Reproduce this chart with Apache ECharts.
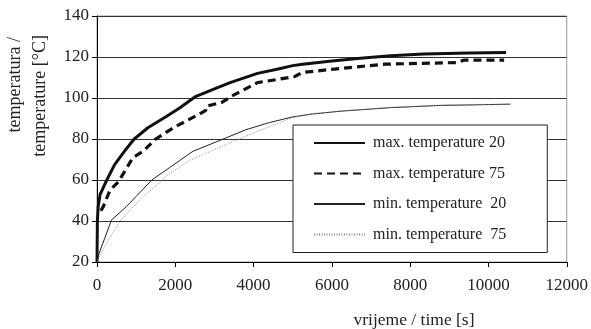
<!DOCTYPE html>
<html>
<head>
<meta charset="utf-8">
<script src="https://cdn.jsdelivr.net/npm/echarts@6/dist/echarts.min.js"></script>
<style>html,body{margin:0;padding:0;background:#fff}#c{width:591px;height:329px}</style>
</head>
<body>
<div id="c"></div>
<script>
const seriesNames = ['max. temperature 20', 'max. temperature 75', 'min. temperature  20', 'min. temperature  75'];
const max20 = [[0,20],[10,40],[30,47],[80,53],[250,60],[450,67.5],[700,74],[950,80],[1300,85.5],[1770,91],[2100,95],[2500,100.5],[3000,104.5],[3400,107.5],[4100,112],[4600,114],[5000,115.8],[5250,116.5],[6000,118],[6800,119.5],[7500,120.6],[8350,121.5],[8400,121.9],[9500,122],[9550,122.2],[10450,122.2]];
const max75 = [[100,45],[160,47],[330,55],[540,59],[700,64],[920,71],[1175,74],[1500,80],[2000,86],[2600,92],[2780,94],[2800,96],[3200,98],[3450,101],[4100,107.5],[4600,109],[5060,110.5],[5230,112.4],[6000,114],[6800,115.5],[7350,116.5],[9200,117.3],[9380,118.5],[10400,118.5]];
const min20 = [[0,20],[50,24],[370,40.5],[750,47],[1000,52],[1400,60],[1850,66],[2450,74],[3200,79.8],[3800,84.5],[4400,88],[4980,90.7],[5500,92.2],[6250,93.6],[7500,95.3],[8800,96.4],[9500,96.6],[10560,97]];
const min75 = [[0,20],[40,22],[300,31],[580,39.7],[880,46],[1175,52],[1500,57],[1770,62],[2360,69.5],[3200,76.5],[3800,81.4],[4400,86],[5000,90.5],[5500,92.3],[6250,93.7],[7500,95.4],[8800,96.5],[9500,96.8],[10570,97]];
const yTitle1 = 'temperatura /';
const yTitle2 = 'temperature [°C]';
const xTitle = 'vrijeme / time [s]';

const FONT = '"Liberation Serif", "Times New Roman", serif';
const chart = echarts.init(document.getElementById('c'), null, {renderer: 'canvas'});
chart.setOption({
  animation: false,
  backgroundColor: '#fff',
  grid: {left: 97, right: 22, top: 16, bottom: 67, show: true, borderColor: '#999', borderWidth: 1, backgroundColor: 'transparent'},
  xAxis: {
    type: 'value', min: 0, max: 12000, interval: 2000,
    axisLine: {show: true, lineStyle: {color: '#000', width: 1}},
    axisTick: {show: true, inside: false, length: 5, lineStyle: {color: '#000'}},
    axisLabel: {fontFamily: FONT, fontSize: 17, color: '#222', margin: 15, formatter: function (v) { return String(v); }},
    splitLine: {show: false}
  },
  yAxis: {
    type: 'value', min: 20, max: 140, interval: 20,
    axisLine: {show: true, lineStyle: {color: '#000', width: 1}},
    axisTick: {show: true, inside: false, length: 5, lineStyle: {color: '#000'}},
    axisLabel: {fontFamily: FONT, fontSize: 17, color: '#222', margin: 8, formatter: function (v) { return String(v); }},
    splitLine: {show: true, lineStyle: {color: '#333', width: 1}}
  },
  legend: {
    orient: 'vertical', left: 293, top: 125,
    padding: [10, 41, 10, 20],
    itemWidth: 51, itemHeight: 14, itemGap: 14.5,
    backgroundColor: '#fff', borderColor: '#222', borderWidth: 1,
    itemStyle: {opacity: 0},
    textStyle: {fontFamily: FONT, fontSize: 16, color: '#222', padding: [0, 0, 0, 3]},
    data: seriesNames
  },
  series: [
    {name: seriesNames[0], type: 'line', data: max20, symbol: 'none', lineStyle: {color: '#111', width: 3}, itemStyle: {color: '#111'}},
    {name: seriesNames[1], type: 'line', data: max75, symbol: 'none', lineStyle: {color: '#111', width: 3.2, type: [8, 5]}, itemStyle: {color: '#111'}},
    {name: seriesNames[2], type: 'line', data: min20, symbol: 'none', lineStyle: {color: '#222', width: 1}, itemStyle: {color: '#222'}},
    {name: seriesNames[3], type: 'line', data: min75, symbol: 'none', lineStyle: {color: '#888', width: 1, type: [1, 1.5]}, itemStyle: {color: '#888'}}
  ],
  graphic: [
    {type: 'text', x: 15, y: 37, rotation: Math.PI / 2, style: {text: yTitle1, font: '18px ' + FONT, fill: '#222', align: 'right', verticalAlign: 'middle'}},
    {type: 'text', x: 40, y: 35, rotation: Math.PI / 2, style: {text: yTitle2, font: '18px ' + FONT, fill: '#222', align: 'right', verticalAlign: 'middle'}},
    {type: 'text', x: 414, y: 320, style: {text: xTitle, font: '17.5px ' + FONT, fill: '#222', align: 'center', verticalAlign: 'middle'}}
  ]
});
</script>
</body>
</html>
